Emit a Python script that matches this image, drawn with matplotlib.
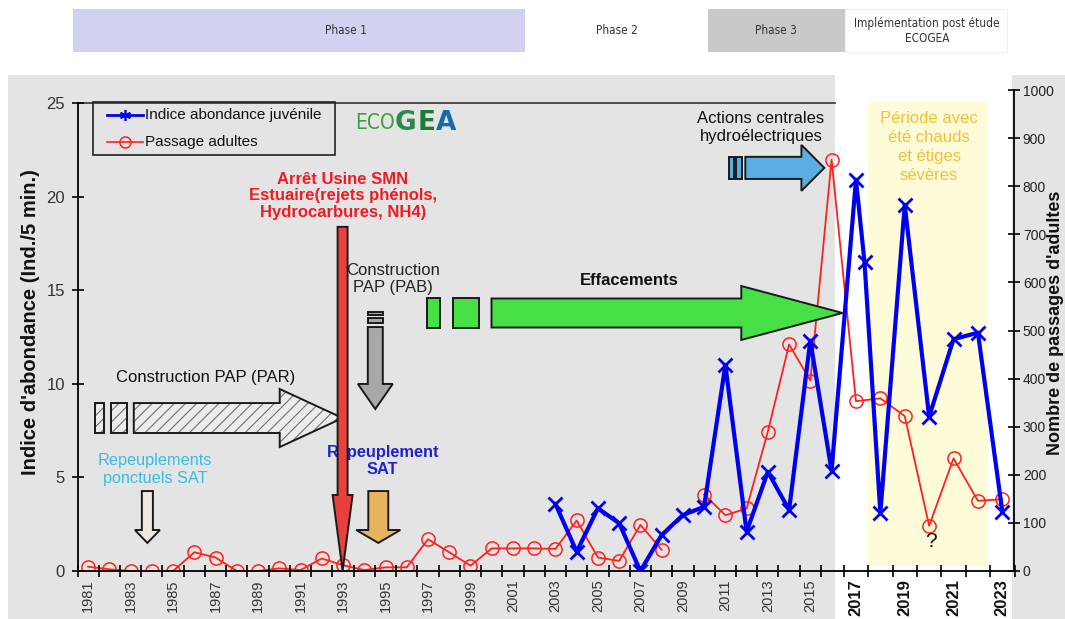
import numpy as np
import matplotlib
matplotlib.use("Agg")
import matplotlib.pyplot as plt
from matplotlib import font_manager
from matplotlib.patches import Polygon, Rectangle
from matplotlib.lines import Line2D

plt.rcParams['font.family'] = ['Liberation Sans', 'DejaVu Sans']
plt.rcParams['hatch.linewidth'] = 0.8

# ---------------- data ----------------
adult_years = list(range(1981, 2024))
adult_passages = [9, 3.5, 0, 0, 0, 39, 28, 0, 0, 5.5, 2, 26, 12, 2, 7.6, 7.6,
                  66, 39, 11, 47, 47, 47, 46, 105, 28, 21, 96, 44, np.nan,
                  159, 116, 130, 290, 471, 396, 855, 353, 359, 322, 94, 234,
                  146, 149]

juvenile_years = [2003, 2004, 2005, 2006, 2007, 2008, 2009, 2010, 2011, 2012,
                  2013, 2014, 2015, 2016, 2017, 2017.35, 2018, 2019, 2020,
                  2021, 2022, 2023]
juvenile_index = [3.58, 1.03, 3.35, 2.55, 0.0, 1.92, 2.99, 3.43, 11.0, 2.1,
                  5.3, 3.26, 12.3, 5.35, 20.9, 16.5, 3.1, 19.55, 8.24, 12.38,
                  12.73, 3.17]

label_years = list(range(1981, 2024, 2))
left_ticks = [0, 5, 10, 15, 20, 25]
right_ticks = list(range(0, 1001, 100))

# ---------------- figure ----------------
W, H = 1065, 619
fig = plt.figure(figsize=(W / 100, H / 100), dpi=100)
fig.patch.set_facecolor('white')

_names = {f.name for f in font_manager.fontManager.ttflist}
NARROW = 'Liberation Sans Narrow' if 'Liberation Sans Narrow' in _names else 'DejaVu Sans'


def fx(px):
    return px / W


def fy(py):
    return 1 - py / H


def fig_rect(x0, y0, x1, y1, **kw):
    fig.add_artist(Rectangle((fx(x0), fy(y1)), fx(x1) - fx(x0), fy(y0) - fy(y1),
                             transform=fig.transFigure, **kw))


# panel backgrounds
fig_rect(8, 75, 835, 619, fc='#e4e4e4', ec='none', zorder=-10)
fig_rect(1012, 75, 1065, 619, fc='#e4e4e4', ec='none', zorder=-10)

# phase strip
fig_rect(73, 9, 525, 52, fc='#d2d2f0', ec='none', zorder=-5)
fig_rect(708, 9, 845, 52, fc='#c9c9c9', ec='none', zorder=-5)
fig_rect(845, 9, 1007, 52, fc='white', ec='#efefef', lw=0.8, zorder=-5)
phase_font = dict(family=[NARROW, 'DejaVu Sans'], fontstretch='condensed',
                  fontsize=8.5, color='#333333', ha='center', va='center')
fig.text(fx(346), fy(31), 'Phase 1', **phase_font)
fig.text(fx(617), fy(31), 'Phase 2', **phase_font)
fig.text(fx(776), fy(31), 'Phase 3', **phase_font)
fig.text(fx(927), fy(31), 'Implémentation post étude\nECOGEA', linespacing=1.3,
         **phase_font)

# ---------------- axes ----------------
AX_L, AX_R, AX_B, AX_T = 77.5, 1014.5, 571, 90
ax = fig.add_axes([fx(AX_L), fy(AX_B), (AX_R - AX_L) / W, (AX_B - AX_T) / H])


def afx(px):
    return (px - AX_L) / (AX_R - AX_L)


def afy(py):
    return (AX_B - py) / (AX_B - AX_T)


# the years after 2016 are spaced wider than the earlier ones
BREAK = 2016
STRETCH = 24.4 / 21.25


def fwd(x):
    x = np.asarray(x, dtype=float)
    return np.where(x <= BREAK, x, BREAK + (x - BREAK) * STRETCH)


def inv(u):
    u = np.asarray(u, dtype=float)
    return np.where(u <= BREAK, u, BREAK + (u - BREAK) / STRETCH)


ax.set_xscale('function', functions=(fwd, inv))
ax.set_xlim(1980.5, 2023.5)
ax.set_ylim(0, 25.69)

ax2 = ax.twinx()
ax2.set_ylim(0, 1000)
ax.set_zorder(2)
ax2.set_zorder(1)
ax.patch.set_visible(False)
ax2.patch.set_visible(False)

# hot-summer period
ax2.axvspan(2017.48, 2022.43, ymin=afy(566), ymax=afy(102), fc='#fefbd9',
            ec='none', zorder=0)

# series
ax2.plot(adult_years, adult_passages, color='#ff2020', lw=1.3, marker='o',
         ms=9.5, mfc='none', mec='#ff2020', mew=1.1, zorder=3)
ax.plot(juvenile_years, juvenile_index, color='#0000f0', lw=3, marker='x',
        ms=10, mew=2, zorder=3)

# frame
ax.axhline(25, xmin=0, xmax=afx(835), color='#333333', lw=1.2, zorder=1)
for s in ['top', 'right']:
    ax.spines[s].set_visible(False)
for s in ['top', 'left', 'bottom']:
    ax2.spines[s].set_visible(False)
ax.spines['left'].set_bounds(0, 25)
ax.spines['left'].set_linewidth(1.3)
ax.spines['bottom'].set_linewidth(1.3)
ax2.spines['right'].set_linewidth(1.3)

# ticks
ax.set_xticks(label_years)
ax.set_xticklabels([str(y) for y in label_years], rotation=90)
ax.set_xticks(np.arange(1980.5, 2024.0, 1.0), minor=True)
ax.tick_params(axis='x', which='major', length=0, pad=6)
ax.tick_params(axis='x', which='minor', length=8, width=1.2, direction='inout')
for lbl, yr in zip(ax.get_xticklabels(), label_years):
    if yr >= 2017:
        lbl.set_fontweight('bold')
        lbl.set_fontsize(12)
        lbl.set_color('#111111')
    else:
        lbl.set_fontsize(10.5)
        lbl.set_color('#333333')

ax.set_yticks(left_ticks)
ax.tick_params(axis='y', direction='inout', length=8, width=1.2, labelsize=12,
               labelcolor='#333333', pad=5)
ax2.set_yticks(right_ticks)
ax2.tick_params(axis='y', direction='inout', length=8, width=1.2, labelsize=10,
                labelcolor='#222222', pad=2)

fig.text(fx(31), fy(322), "Indice d'abondance (Ind./5 min.)", rotation=90,
         ha='center', va='center', fontsize=14.5, fontweight='bold', color='#111111')
fig.text(fx(1055), fy(323), "Nombre de passages d'adultes", rotation=90,
         ha='center', va='center', fontsize=13, fontweight='bold', color='#111111')


# ---------------- annotation shapes ----------------
def right_arrow(x0, x_neck, x_tip, yc, hb, hh, bars=(), hatch=None, fc='white',
                hatch_color='#707070', z=5):
    shapes = [[(b0, yc - hb), (b1, yc - hb), (b1, yc + hb), (b0, yc + hb)]
              for b0, b1 in bars]
    shapes.append([(x0, yc - hb), (x_neck, yc - hb), (x_neck, yc - hh),
                   (x_tip, yc), (x_neck, yc + hh), (x_neck, yc + hb),
                   (x0, yc + hb)])
    for verts in shapes:
        if hatch:
            ax.add_patch(Polygon(verts, closed=True, fc=fc, ec=hatch_color,
                                 lw=0, hatch=hatch, zorder=z))
            ax.add_patch(Polygon(verts, closed=True, fill=False, ec='#1a1a1a',
                                 lw=1.4, zorder=z))
        else:
            ax.add_patch(Polygon(verts, closed=True, fc=fc, ec='#1a1a1a',
                                 lw=1.4, zorder=z))


def down_arrow(xc, y_top, y_neck, y_tip, hb, hh, bars=(), fc='white', z=5):
    shapes = [[(xc - hb, b0), (xc + hb, b0), (xc + hb, b1), (xc - hb, b1)]
              for b0, b1 in bars]
    shapes.append([(xc - hb, y_top), (xc + hb, y_top), (xc + hb, y_neck),
                   (xc + hh, y_neck), (xc, y_tip), (xc - hh, y_neck),
                   (xc - hb, y_neck)])
    for verts in shapes:
        ax.add_patch(Polygon(verts, closed=True, fc=fc, ec='#1a1a1a', lw=1.4,
                             zorder=z))


# fish-pass construction on the lower river
right_arrow(1983.15, 1990.02, 1992.98, 8.17, 0.80, 1.55,
            bars=[(1981.32, 1981.74), (1982.07, 1982.82)], hatch='///',
            fc='#ececec')
# fish-pass construction upstream
down_arrow(1994.52, 13.03, 9.99, 8.65, 0.353, 0.82,
           bars=[(13.84, 13.67), (13.51, 13.25)], fc='#a8a8a8')
# restocking
down_arrow(1994.66, 4.27, 2.19, 1.50, 0.47, 1.04, fc='#e8b35f')
down_arrow(1983.79, 4.27, 2.19, 1.50, 0.26, 0.59, fc='#eee8e2')
# weir removals
right_arrow(1999.99, 2011.75, 2016.45, 13.78, 0.775, 1.44,
            bars=[(1996.94, 1997.55), (1998.16, 1999.39)], fc='#46e046')
# hydropower actions
right_arrow(2011.94, 2014.58, 2015.66, 21.53, 0.59, 1.23,
            bars=[(2011.19, 2011.43), (2011.52, 2011.80)], fc='#5aaee2')
# factory closure
down_arrow(1992.98, 18.38, 4.06, 0.0, 0.235, 0.47, fc='#e8403c', z=9)

# ---------------- annotation texts ----------------
ax.text(1993, 20.03, 'Arrêt Usine SMN\nEstuaire(rejets phénols,\nHydrocarbures, NH4)',
        color='#ee1c24', fontweight='bold', fontsize=12, ha='center', va='center',
        linespacing=1.15, zorder=8)
ax.text(1995.36, 15.6, 'Construction\nPAP (PAB)', fontsize=12, ha='center',
        va='center', linespacing=1.2, color='#222222', zorder=8)
ax.text(1986.54, 10.36, 'Construction PAP (PAR)', fontsize=12, ha='center',
        va='center', color='#111111', zorder=8)
ax.text(1984.14, 5.4, 'Repeuplements\nponctuels SAT', color='#35bde8',
        fontsize=11.7, ha='center', va='center', linespacing=1.25, zorder=8)
ax.text(1994.87, 5.88, 'Repeuplement\nSAT', color='#2222cc', fontweight='bold',
        fontsize=11.8, ha='center', va='center', linespacing=1.2, zorder=7)
ax.text(2006.49, 15.49, 'Effacements', fontweight='bold', fontsize=12,
        ha='center', va='center', color='#111111', zorder=8)
ax.text(2012.68, 23.69, 'Actions centrales\nhydroélectriques', fontsize=12,
        ha='center', va='center', linespacing=1.25, color='#111111', zorder=8)
ax.text(2020.0, 22.65, 'Période avec\nété chauds\net étiges\nsévères',
        color='#f2c038', fontsize=12, ha='center', va='center', linespacing=1.32,
        zorder=8)
ax.text(2020.08, 1.56, '?', fontsize=15, ha='center', va='center',
        color='#111111', zorder=8)

# logo lettering: letters set one after the other from their measured widths
renderer = fig.canvas.get_renderer()
logo_y = 23.93
logo_parts = [('ECO', dict(family=[NARROW, 'DejaVu Sans'], fontstretch='condensed',
                           fontsize=15, color='#3f9f3f')),
              ('G', dict(family='DejaVu Sans', fontweight='bold', fontsize=19,
                         color='#2a8a4a')),
              ('E', dict(family='DejaVu Sans', fontweight='bold', fontsize=19,
                         color='#1f7a3a')),
              ('A', dict(family='DejaVu Sans', fontweight='bold', fontsize=19,
                         color='#1a6aa8'))]
cursor_px = ax.transData.transform((1993.55, logo_y))[0]
for txt, style in logo_parts:
    x_data = ax.transData.inverted().transform((cursor_px, 0))[0]
    t = ax.text(x_data, logo_y, txt, ha='left', va='center', zorder=8, **style)
    cursor_px = t.get_window_extent(renderer).x1 + 0.5

# ---------------- legend ----------------
ax.add_patch(Rectangle((afx(93), afy(155)), afx(335) - afx(93), afy(102) - afy(155),
                       transform=ax.transAxes, fill=False, ec='#222222', lw=1.2,
                       zorder=8))
ax.add_line(Line2D([afx(107), afx(125), afx(143)], [afy(115)] * 3,
                   transform=ax.transAxes, color='#0000f0', lw=2,
                   marker=(6, 2, 0), ms=8, mew=1.2, markevery=[1], zorder=8))
ax.add_line(Line2D([afx(107), afx(125), afx(143)], [afy(142)] * 3,
                   transform=ax.transAxes, color='#ff2020', lw=1.2, marker='o',
                   ms=8, mfc='none', mec='#ff2020', mew=1.1, markevery=[1], zorder=8))
ax.text(afx(145), afy(115), 'Indice abondance juvénile', transform=ax.transAxes,
        fontsize=11, va='center', ha='left', color='#111111', zorder=8)
ax.text(afx(145), afy(142), 'Passage adultes', transform=ax.transAxes,
        fontsize=11, va='center', ha='left', color='#111111', zorder=8)

fig.savefig('out.png', dpi=100)
